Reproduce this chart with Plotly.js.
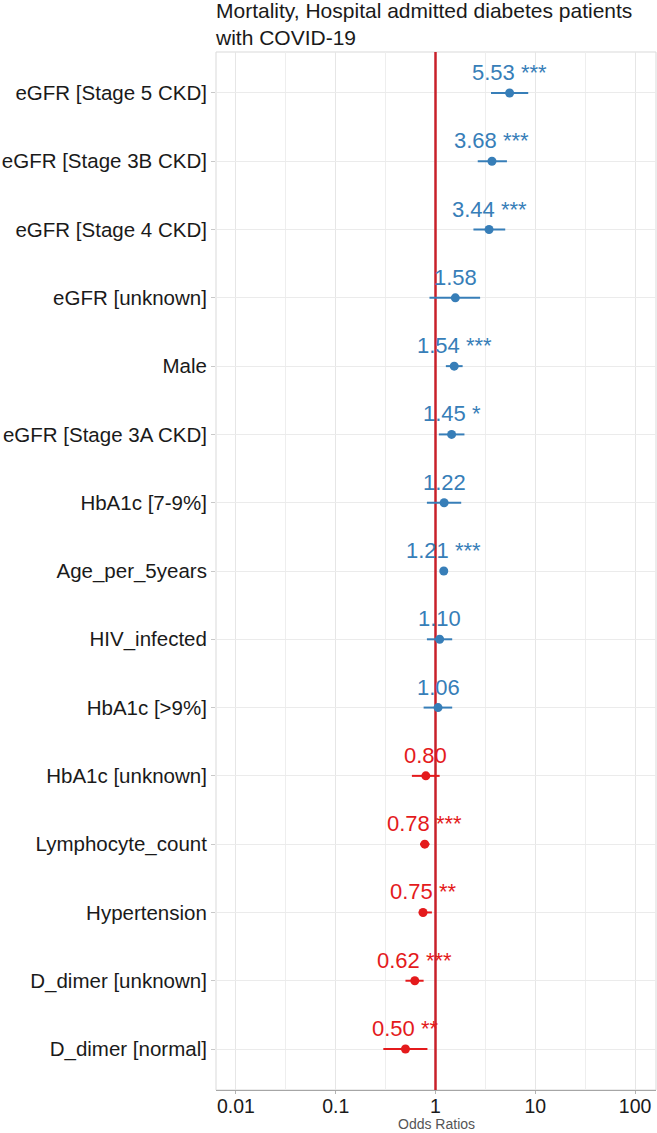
<!DOCTYPE html>
<html>
<head>
<meta charset="utf-8">
<script src="https://cdn.plot.ly/plotly-3.0.1.min.js"></script>
<style>html,body{margin:0;padding:0;background:#fff;}#chart{width:657px;height:1133px;}</style>
</head>
<body>
<div id="chart"></div>
<script>
// Data (top to bottom)
const terms = ["eGFR [Stage 5 CKD]", "eGFR [Stage 3B CKD]", "eGFR [Stage 4 CKD]", "eGFR [unknown]", "Male",
  "eGFR [Stage 3A CKD]", "HbA1c [7-9%]", "Age_per_5years", "HIV_infected", "HbA1c [>9%]",
  "HbA1c [unknown]", "Lymphocyte_count", "Hypertension", "D_dimer [unknown]", "D_dimer [normal]"];
const oddsRatios = [5.53, 3.68, 3.44, 1.58, 1.54, 1.45, 1.22, 1.21, 1.10, 1.06, 0.80, 0.78, 0.75, 0.62, 0.50];
const ciLow  = [3.60, 2.65, 2.40, 0.87, 1.27, 1.08, 0.82, 1.16, 0.82, 0.76, 0.58, 0.70, 0.68, 0.50, 0.30];
const ciHigh = [8.50, 5.20, 5.00, 2.80, 1.87, 1.95, 1.81, 1.26, 1.47, 1.47, 1.10, 0.87, 0.92, 0.76, 0.83];
const stars  = ["***", "***", "***", "", "***", "*", "", "***", "", "", "", "***", "**", "***", "**"];
const xTickVals = [0.01, 0.1, 1, 10, 100];
const xTickText = ["0.01", "0.1", "1", "10", "100"];
const xMinorVals = [0.0316, 0.316, 3.16, 31.6];

const BLUE = "#377EB8", RED = "#E41A1C", REFLINE = "#C8202A";
const FONT = "Liberation Sans, Arial, sans-serif";

const idx = terms.map((_, i) => i);
function makeTrace(sel, color) {
  return {
    type: "scatter", mode: "markers",
    x: sel.map(i => oddsRatios[i]), y: sel,
    marker: {color: color, size: 9},
    error_x: {type: "data", symmetric: false,
      array: sel.map(i => ciHigh[i] - oddsRatios[i]),
      arrayminus: sel.map(i => oddsRatios[i] - ciLow[i]),
      color: color, thickness: 2, width: 0},
    hoverinfo: "skip", showlegend: false
  };
}
const pos = idx.filter(i => oddsRatios[i] >= 1);
const neg = idx.filter(i => oddsRatios[i] < 1);

const refLine = {type: "scatter", mode: "lines", x: [1, 1], y: [-0.6, terms.length - 0.4],
  line: {color: REFLINE, width: 2.5}, hoverinfo: "skip", showlegend: false};

const annotations = idx.map(i => ({
  x: Math.log10(oddsRatios[i]), y: i, xref: "x", yref: "y",
  text: oddsRatios[i].toFixed(2) + (stars[i] ? " " + stars[i] : ""),
  showarrow: false, yanchor: "bottom", xanchor: "center", yshift: 6,
  font: {family: FONT, size: 22, color: oddsRatios[i] >= 1 ? BLUE : RED}
}));

annotations.push({
  text: "Odds Ratios", xref: "paper", yref: "paper", x: 0.5, y: -0.0412,
  xanchor: "center", yanchor: "bottom", showarrow: false, borderpad: 0,
  font: {family: FONT, size: 14, color: "#555555"}
});

const layout = {
  width: 657, height: 1133,
  margin: {l: 216, r: 1, t: 52, b: 43},
  paper_bgcolor: "#fff", plot_bgcolor: "#fff",
  font: {family: FONT, color: "#1a1a1a"},
  title: {text: "Mortality, Hospital admitted diabetes patients<br>with COVID-19",
    x: 0, xref: "paper", xanchor: "left", y: 0.984, yref: "container", yanchor: "top",
    font: {family: FONT, size: 21, color: "#1a1a1a"}},
  xaxis: {type: "log", range: [-2.2, 2.21], tickvals: xTickVals, ticktext: xTickText,
    tickfont: {size: 19.5, color: "#1a1a1a"}, showgrid: true, gridcolor: "#e6e6e6", gridwidth: 1,
    minor: {tickvals: xMinorVals, showgrid: true, gridcolor: "#eeeeee", gridwidth: 1, ticklen: 0},
    ticks: "outside", ticklen: 3, tickcolor: "#b3b3b3", ticklabelstandoff: -4,
    showline: true, linecolor: "#a6a6a6", linewidth: 1, zeroline: false},
  yaxis: {range: [terms.length - 0.4, -0.6], tickvals: idx, ticktext: terms,
    tickfont: {size: 20.5, color: "#1a1a1a"}, showgrid: true, gridcolor: "#ebebeb", gridwidth: 1,
    ticks: "outside", ticklen: 4, tickcolor: "#c8c8c8", zeroline: false,
    showline: false},
  shapes: [{type: "rect", xref: "paper", yref: "paper", x0: 0, x1: 1, y0: 0, y1: 1,
    line: {color: "#d9d9d9", width: 1}, fillcolor: "rgba(0,0,0,0)", layer: "below"}],
  annotations: annotations
};

Plotly.newPlot("chart", [refLine, makeTrace(pos, BLUE), makeTrace(neg, RED)], layout,
  {staticPlot: true, displayModeBar: false});
</script>
</body>
</html>
